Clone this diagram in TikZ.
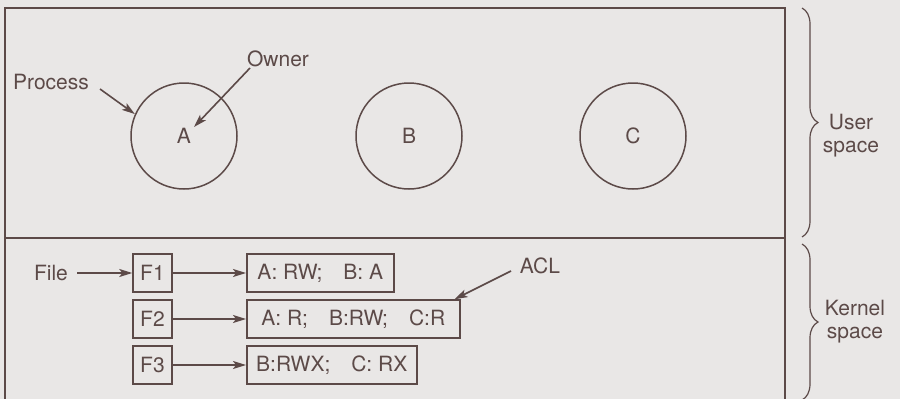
\documentclass[tikz,border=0pt]{standalone}
\usepackage{fontspec}
\setmainfont{TeX Gyre Heros}
\usetikzlibrary{arrows.meta,positioning,decorations.pathreplacing}
\definecolor{ink}{RGB}{92,74,72}
\definecolor{paper}{RGB}{233,231,230}

\begin{document}
\begin{tikzpicture}[x=1pt, y=-1pt, color=ink, line width=1.5pt,
    font=\fontsize{21}{23}\selectfont,
    procnode/.style={draw, circle, minimum size=106pt, inner sep=0pt},
    filebox/.style={draw, minimum width=39pt, minimum height=38pt, inner sep=0pt},
    aclbox/.style={draw, minimum height=38pt, inner sep=0pt, anchor=west},
    ptr/.style={-{Stealth[length=13pt,width=8pt,inset=3pt]}, line width=1.6pt},
    spacebrace/.style={decorate, decoration={brace, amplitude=16pt}, line width=1.2pt}]
    \useasboundingbox (0,0) rectangle (900,399);
    \fill[paper] (0,0) rectangle (900,399);
    \clip (0,0) rectangle (900,399);

    % Frame: user space above, kernel space below
    \draw (5,8) rectangle (785,412);
    \draw (5,238) -- (785,238);

    % Processes
    \node[procnode] (pa) at (184,136) {A};
    \node[procnode] (pb) at (409,136) {B};
    \node[procnode] (pc) at (633,136) {C};

    \node (proclabel) at (51,82) {Process};
    \node (ownerlabel) at (278,59) {Owner};
    \coordinate (proctail) at (100,89);
    \coordinate (ownertail) at (250,68);
    \coordinate (ownerhead) at (194,127);
    \draw[ptr] (proctail) -- (pa.156);
    \draw[ptr] (ownertail) -- (ownerhead);

    % Files and their access control lists
    \node[filebox] (f1) at (152.5,273) {F1};
    \node[filebox] (f2) at (152.5,319) {F2};
    \node[filebox] (f3) at (152.5,365) {F3};

    \node[aclbox, minimum width=147pt] (acl1) at (246,273) {A: RW;\quad B: A};
    \node[aclbox, minimum width=213pt] (acl2) at (246,319) {A: R;\quad B:RW;\quad C:R};
    \node[aclbox, minimum width=170pt] (acl3) at (246,365) {B:RWX;\quad C: RX};

    \foreach \i in {1,2,3}
        \draw[ptr] (f\i) -- (acl\i);

    \node (filelabel) at (51,273) {File};
    \coordinate (filetail) at (77,273);
    \draw[ptr] (filetail) -- (f1);

    \node (acllabel) at (540,266) {ACL};
    \coordinate (acltail) at (511,271);
    \draw[ptr] (acltail) -- ([xshift=-6pt]acl2.north east);

    % Braces
    \draw[spacebrace] (802,8) -- (802,237);
    \draw[spacebrace] (802,244) -- (802,400);
    \node[align=center] (userlabel) at (851,136) {User\\space};
    \node[align=center] (kernellabel) at (855,322) {Kernel\\space};
\end{tikzpicture}
\end{document}
